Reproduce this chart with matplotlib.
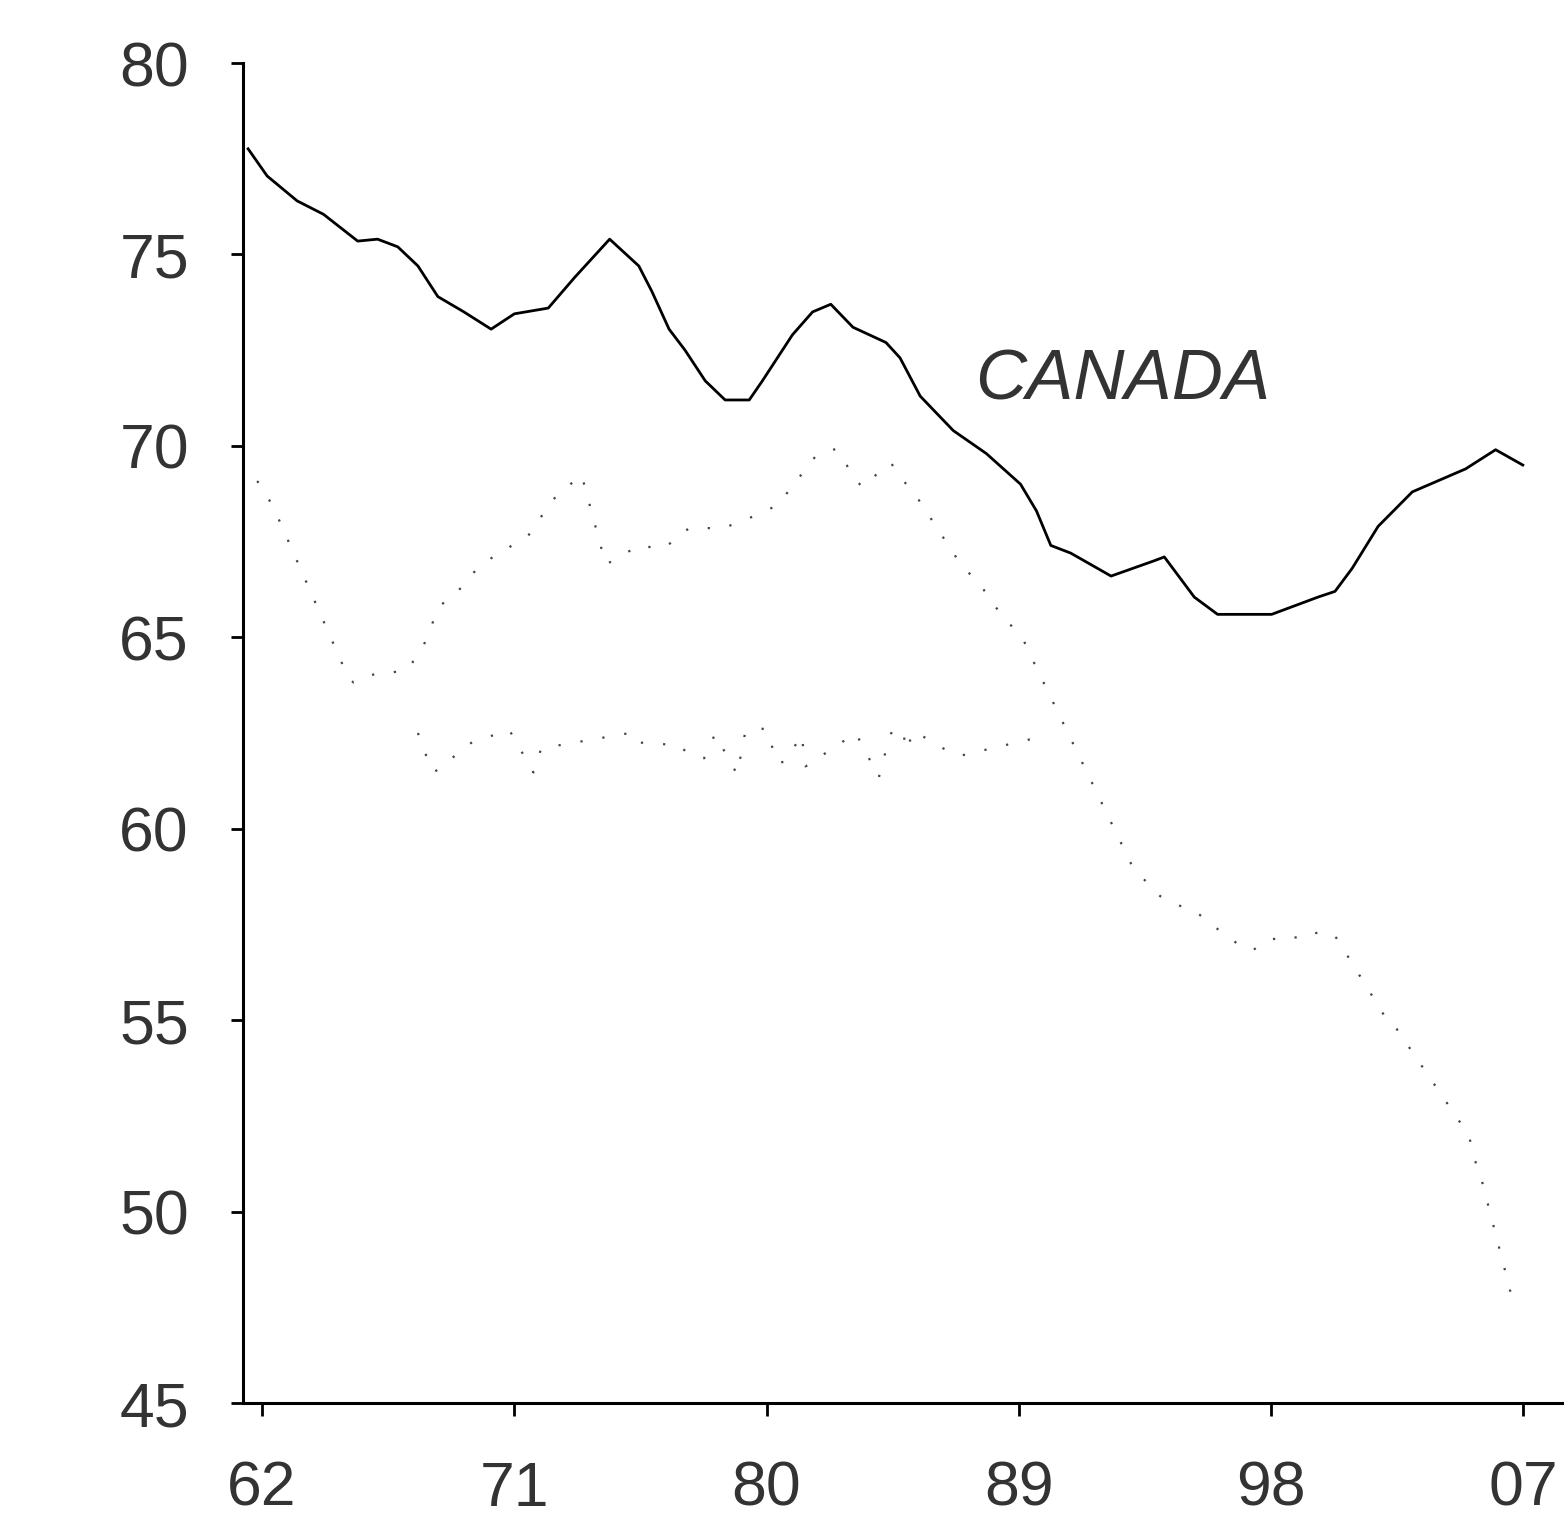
import matplotlib
matplotlib.use("Agg")
import matplotlib.pyplot as plt
import numpy as np

# ---- data ----
canada_years = [1961.50, 1962.18, 1963.25, 1964.19, 1964.80, 1965.41, 1966.12, 1966.84,
                1967.56, 1968.27, 1969.20, 1970.17, 1971.00, 1972.21, 1973.15, 1974.40,
                1975.44, 1975.91, 1976.52, 1977.09, 1977.81, 1978.52, 1979.38, 1979.85,
                1980.92, 1981.64, 1982.29, 1983.08, 1984.26, 1984.76, 1985.48, 1986.66,
                1987.84, 1989.06, 1989.63, 1990.14, 1990.85, 1991.57, 1992.29, 1993.83,
                1994.19, 1995.26, 1996.09, 1998.02, 1999.67, 2000.28, 2000.89, 2001.82,
                2003.04, 2004.94, 2006.01, 2006.98]
canada_values = [77.76, 77.05, 76.40, 76.05, 75.70, 75.35, 75.40, 75.20,
                 74.70, 73.90, 73.50, 73.05, 73.45, 73.60, 74.40, 75.40,
                 74.70, 74.03, 73.05, 72.50, 71.70, 71.20, 71.20, 71.70,
                 72.90, 73.50, 73.70, 73.10, 72.70, 72.30, 71.30, 70.40,
                 69.80, 69.00, 68.30, 67.40, 67.20, 66.90, 66.60, 67.00,
                 67.10, 66.05, 65.60, 65.60, 66.05, 66.20, 66.80, 67.90,
                 68.80, 69.40, 69.90, 69.50]

other_years = [1961.82, 1962.00, 1962.50, 1964.90, 1965.08, 1965.26, 1965.58, 1966.34,
               1966.62, 1967.20, 1967.77, 1968.31, 1968.81, 1969.17, 1969.56, 1969.96,
               1971.50, 1972.36, 1972.65, 1973.22, 1973.40, 1974.26, 1974.94, 1975.48,
               1976.16, 1976.55, 1976.91, 1977.30, 1978.42, 1979.53, 1980.39, 1981.78,
               1982.47, 1982.68, 1982.86, 1983.04, 1983.43, 1983.72, 1984.04, 1984.44,
               1984.87, 1985.33, 1986.87, 1987.73, 1988.16, 1989.17, 1989.38, 1993.08,
               1994.04, 1994.80, 1995.30, 1996.16, 1997.09, 1997.38, 1997.66, 1997.88,
               1998.20, 1998.52, 1998.88, 1999.16, 1999.38, 1999.89, 2000.17, 2000.35,
               2002.18, 2002.36, 2005.05, 2005.37, 2005.44, 2006.48, 2006.66]
other_values = [69.08, 68.95, 68.24, 64.24, 63.95, 63.82, 63.95, 64.10,
                64.08, 64.16, 64.80, 65.80, 66.10, 66.34, 66.70, 66.97,
                67.66, 68.58, 68.79, 69.13, 69.24, 66.90, 67.18, 67.42,
                67.30, 67.45, 67.70, 67.87, 67.84, 68.16, 68.45, 69.76,
                69.92, 69.68, 69.50, 69.21, 68.92, 69.08, 69.37, 69.55,
                69.10, 68.70, 66.97, 66.26, 65.80, 64.92, 64.58, 58.97,
                58.24, 57.97, 57.84, 57.34, 56.84, 56.84, 57.00, 57.10,
                57.13, 57.21, 57.16, 57.13, 57.24, 57.32, 57.26, 57.13,
                54.95, 54.90, 52.00, 51.08, 51.03, 48.08, 47.53]

low_years = [1967.56, 1967.77, 1968.13, 1969.49, 1970.82, 1971.68, 1971.96, 1975.12,
             1975.30, 1976.91, 1977.13, 1977.77, 1978.16, 1978.95, 1979.24, 1979.60,
             1979.99, 1980.39, 1980.67, 1981.25, 1981.39, 1983.18, 1984.01, 1984.08,
             1984.19, 1984.47, 1984.87, 1984.97, 1985.26, 1986.30, 1986.87, 1990.06]
low_values = [62.50, 62.05, 61.47, 62.26, 62.58, 61.47, 62.10, 62.50,
              62.26, 62.18, 62.00, 61.84, 62.47, 61.42, 62.53, 62.63,
              62.60, 61.71, 61.76, 62.45, 61.63, 62.50, 61.34, 61.63,
              61.87, 62.55, 62.58, 62.05, 62.55, 62.10, 61.90, 62.45]

x_ticks = [1962, 1971, 1980, 1989, 1998, 2007]
x_tick_labels = ["62", "71", "80", "89", "98", "07"]
y_ticks = [45, 50, 55, 60, 65, 70, 75, 80]
label_text = "CANADA"

# ---- figure ----
plt.rcParams['font.family'] = ['Liberation Sans', 'DejaVu Sans']
fig = plt.figure(figsize=(15.64, 15.27), dpi=100)
ax = fig.add_axes([0.1554, 0.0812, 0.8446, 0.8775])

ax.plot(canada_years, canada_values, color='black', lw=2.0, solid_joinstyle='round')
ax.plot(other_years, other_values, color='#444444', lw=1.6, linestyle=(0, (1, 9)))
ax.plot(low_years, low_values, color='#444444', lw=1.6, linestyle=(0, (1, 9)))

ax.text(1987.45, 71.2, label_text, fontsize=51, fontstyle='italic',
        ha='left', va='baseline', color='#333333')

ax.set_xlim(1961.32, 2008.45)
ax.set_ylim(45, 80)
ax.set_xticks(x_ticks)
ax.set_xticklabels(x_tick_labels)
ax.set_yticks(y_ticks)

for s in ['top', 'right']:
    ax.spines[s].set_visible(False)
for s in ['left', 'bottom']:
    ax.spines[s].set_linewidth(2.2)
ax.tick_params(axis='both', direction='out', length=9, width=2.0,
               labelsize=45, labelcolor='#333333')
ax.tick_params(axis='y', pad=30)
ax.tick_params(axis='x', pad=32)

fig.savefig("out.png", dpi=100, facecolor='white')
